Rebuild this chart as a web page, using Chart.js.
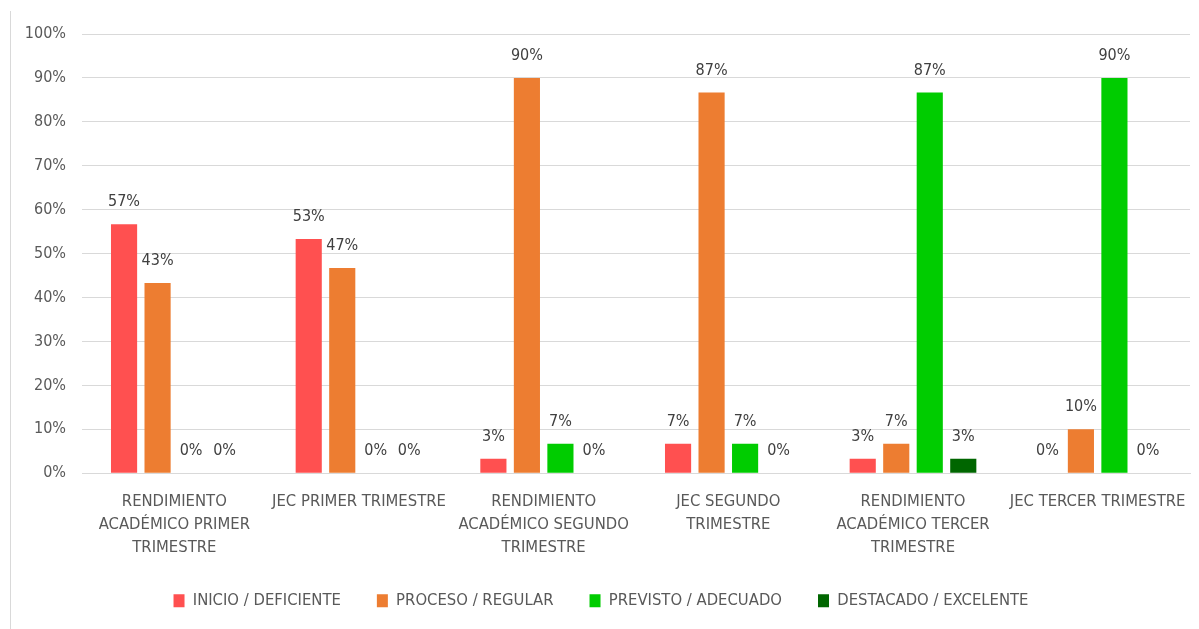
<!DOCTYPE html>
<html>
<head>
<meta charset="utf-8">
<script src="https://cdn.jsdelivr.net/npm/chart.js@4"></script>
<style>
  html, body { margin: 0; padding: 0; background: #fff; }
  #wrap { width: 1199px; height: 629px; position: relative; }
</style>
</head>
<body>
<div id="wrap"><canvas id="chart" width="1199" height="629"></canvas></div>
<script>
const categories = [
  ["RENDIMIENTO", "ACADÉMICO PRIMER", "TRIMESTRE"],
  "JEC PRIMER TRIMESTRE",
  ["RENDIMIENTO", "ACADÉMICO SEGUNDO", "TRIMESTRE"],
  ["JEC SEGUNDO", "TRIMESTRE"],
  ["RENDIMIENTO", "ACADÉMICO TERCER", "TRIMESTRE"],
  "JEC TERCER TRIMESTRE",
];
const seriesNames = ["INICIO / DEFICIENTE", "PROCESO / REGULAR", "PREVISTO / ADECUADO", "DESTACADO / EXCELENTE"];
const inicio = [56.7, 53.3, 3.3, 6.7, 3.3, 0];
const proceso = [43.3, 46.7, 90, 86.7, 6.7, 10];
const previsto = [0, 0, 6.7, 6.7, 86.7, 90];
const destacado = [0, 0, 0, 0, 3.3, 0];
const colors = ["#FF5050", "#ED7D31", "#00CC00", "#006600"];

const FONT = '"Liberation Sans Narrow", "DejaVu Sans Condensed", "Liberation Sans", sans-serif';
const TEXT = "#595959";

// etiquetas encima de cada barra
const barLabels = {
  id: "barLabels",
  afterDatasetsDraw(chart) {
    const ctx = chart.ctx;
    ctx.save();
    ctx.font = "16px " + FONT;
    ctx.fillStyle = "#404040";
    ctx.textAlign = "center";
    ctx.textBaseline = "bottom";
    chart.data.datasets.forEach((ds, i) => {
      chart.getDatasetMeta(i).data.forEach((bar, j) => {
        ctx.fillText(Math.round(ds.data[j]) + "%", bar.x, bar.y - 14);
      });
    });
    ctx.restore();
  },
};

// borde gris a la izquierda
const frame = {
  id: "frame",
  beforeDraw(chart) {
    const ctx = chart.ctx;
    ctx.save();
    ctx.strokeStyle = "#d9d9d9";
    ctx.lineWidth = 1;
    ctx.beginPath();
    ctx.moveTo(10.5, 11);
    ctx.lineTo(10.5, 629);
    ctx.stroke();
    ctx.restore();
  },
};

const datasets = [inicio, proceso, previsto, destacado].map((data, i) => ({
  label: seriesNames[i],
  data: data,
  backgroundColor: colors[i],
  barPercentage: 0.78,
  categoryPercentage: 0.726,
}));

new Chart(document.getElementById("chart"), {
  type: "bar",
  data: { labels: categories, datasets: datasets },
  plugins: [barLabels, frame],
  options: {
    responsive: false,
    animation: false,
    layout: { padding: { left: 12, right: 9, top: 34, bottom: 10 } },
    plugins: {
      tooltip: { enabled: false },
      legend: {
        position: "bottom",
        labels: {
          color: TEXT,
          font: { family: FONT, size: 16.5 },
          boxWidth: 11,
          boxHeight: 13,
          padding: 36,
        },
      },
    },
    scales: {
      x: {
        grid: { display: false },
        border: { color: "#d9d9d9" },
        afterFit(scale) { scale.height -= 12; },
        ticks: {
          color: TEXT,
          font: { family: FONT, size: 16.5, lineHeight: 1.4 },
          maxRotation: 0,
          autoSkip: false,
          padding: 9,
        },
      },
      y: {
        min: 0,
        max: 100,
        afterFit(scale) { scale.width = 70; },
        grid: { color: "#d9d9d9", drawTicks: false },
        border: { display: false },
        ticks: {
          stepSize: 10,
          color: TEXT,
          font: { family: FONT, size: 16 },
          padding: 16,
          callback: (v) => v + "%",
        },
      },
    },
  },
});
</script>
</body>
</html>
